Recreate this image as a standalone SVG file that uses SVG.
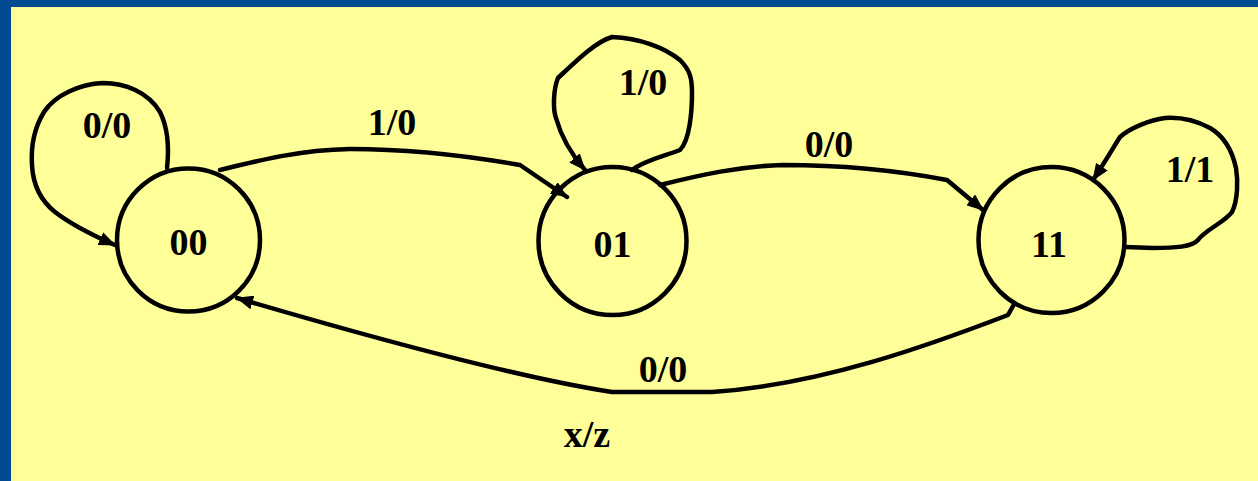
<svg xmlns="http://www.w3.org/2000/svg" width="1258" height="481" viewBox="0 0 1258 481">
  <style>
    .state { fill: none; stroke: #000; stroke-width: 4.5; }
    .edge { fill: none; stroke: #000; stroke-width: 4.5; stroke-linejoin: round; stroke-linecap: round; }
    .lbl { font-family: "Liberation Serif", "Times New Roman", serif; font-weight: bold; font-size: 38px; fill: #000; text-anchor: middle; }
  </style>
  <defs>
    <marker id="arr" markerUnits="userSpaceOnUse" markerWidth="18" markerHeight="14" refX="16" refY="7" orient="auto">
      <path d="M0,0 L17,7 L0,14 Z" fill="#000"/>
    </marker>
  </defs>
  <rect x="0" y="0" width="1258" height="481" fill="#034B90"/>
  <rect x="11" y="7" width="1247" height="474" fill="#FFFF99"/>

  <g id="connectors">
    <g id="e-00-00">
      <path class="edge" marker-end="url(#arr)" d="M167,168 C169,150 169,130 160,112 C148,92 125,83 103,83 C80,84 55,95 44,112 C33,130 31,150 32,165 C33,185 40,200 55,212 C68,222 85,232 115,245"/>
      <text class="lbl" x="107" y="138">0/0</text>
    </g>
    <g id="e-00-01">
      <path class="edge" marker-end="url(#arr)" d="M220,170 C260,160 300,150 350,149 C420,149 480,158 520,165 L567,197"/>
      <text class="lbl" x="392" y="135">1/0</text>
    </g>
    <g id="e-01-01">
      <path class="edge" marker-end="url(#arr)" d="M632,170 C645,160 665,156 680,150 C690,140 692,110 692,93 C692,78 690,70 680,60 C665,48 640,38 612,37 C595,42 575,62 558,78 C553,90 553,110 556,118 C562,140 572,155 585,170"/>
      <text class="lbl" x="643" y="95">1/0</text>
    </g>
    <g id="e-01-11">
      <path class="edge" marker-end="url(#arr)" d="M660,185 C700,175 740,166 783,165 C850,165 905,172 947,180 L983,210"/>
      <text class="lbl" x="829" y="157">0/0</text>
    </g>
    <g id="e-11-11">
      <path class="edge" marker-end="url(#arr)" d="M1125,247 L1153,248 C1175,248 1192,247 1198,240 C1205,230 1225,222 1232,212 C1238,200 1238,180 1236,168 C1232,150 1224,136 1210,128 C1195,120 1180,117 1165,118 C1150,120 1130,128 1120,137 C1113,148 1105,162 1093,180"/>
      <text class="lbl" x="1190" y="182">1/1</text>
    </g>
    <g id="e-11-00">
      <path class="edge" marker-end="url(#arr)" d="M1013,306 L1008,315 C930,345 820,385 712,392 L612,392 C520,378 380,340 237,298"/>
      <text class="lbl" x="663" y="382">0/0</text>
    </g>
  </g>

  <g id="s00">
    <circle class="state" cx="188.5" cy="240" r="71.5"/>
    <text class="lbl" x="188.5" y="255">00</text>
  </g>
  <g id="s01">
    <circle class="state" cx="612.5" cy="241" r="74"/>
    <text class="lbl" x="612.5" y="257">01</text>
  </g>
  <g id="s11">
    <circle class="state" cx="1051.5" cy="240" r="73"/>
    <text class="lbl" x="1049" y="257">11</text>
  </g>

  <text class="lbl" x="587" y="447">x/z</text>
</svg>
